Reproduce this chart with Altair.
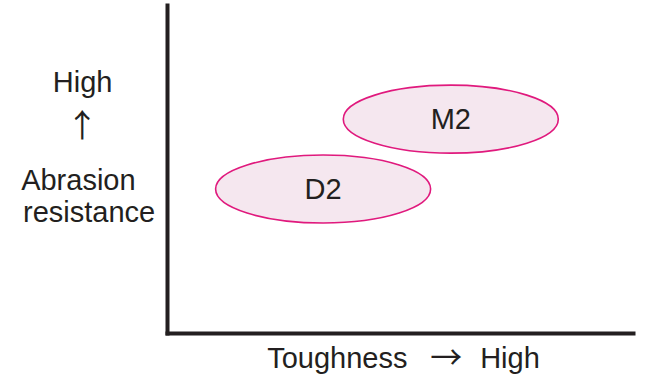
import altair as alt
import pandas as pd

# Ellipse regions (data units on a 0-10 scale for both axes)
grades = ["M2", "D2"]
toughness = [6.09, 3.35]
abrasion = [6.52, 4.39]

# Annotation texts placed in data units
label_texts = ["High", "\u2191", "Abrasion", "resistance", "Toughness", "\u2192", "High"]
label_x = [-2.45, -1.82, -3.13, -3.09, 2.15, 5.99, 6.72]
label_y = [7.35, 6.27, 4.36, 3.38, -1.07, -0.79, -1.07]
label_align = ["left", "center", "left", "left", "left", "center", "left"]
label_base = ["alphabetic", "middle", "alphabetic", "alphabetic", "alphabetic", "middle", "alphabetic"]
label_font = ["Liberation Sans", "Noto Sans CJK JP", "Liberation Sans", "Liberation Sans",
              "Liberation Sans", "Noto Sans CJK JP", "Liberation Sans"]
label_size = [29, 32, 29, 29, 29, 32, 29]

ell = pd.DataFrame({"grade": grades, "t": toughness, "a": abrasion})
lab = pd.DataFrame({"text": label_texts, "x": label_x, "y": label_y})

xs = alt.Scale(domain=[0, 10], nice=False, zero=False)
ys = alt.Scale(domain=[0, 10], nice=False, zero=False)

ax_x = alt.Axis(labels=False, ticks=False, grid=False, title=None, domain=True,
                domainColor="#231f20", domainWidth=4, domainCap="square")
ax_y = alt.Axis(labels=False, ticks=False, grid=False, title=None, domain=True,
                domainColor="#231f20", domainWidth=4, domainCap="square")

ellipse_path = "M-1,0A1,0.316,0,1,0,1,0A1,0.316,0,1,0,-1,0Z"

ellipses = alt.Chart(ell).mark_point(
    shape=ellipse_path, size=46225, filled=False, fill="#f5e7ef", fillOpacity=1,
    stroke="#e0197d", strokeWidth=1.6, opacity=1
).encode(
    x=alt.X("t:Q", scale=xs, axis=ax_x),
    y=alt.Y("a:Q", scale=ys, axis=ax_y),
)

grade_text = alt.Chart(ell).mark_text(
    font="Liberation Sans", fontSize=29, color="#231f20", baseline="middle", align="center", dy=1
).encode(
    x=alt.X("t:Q", scale=xs),
    y=alt.Y("a:Q", scale=ys),
    text="grade:N",
)

layers = [ellipses, grade_text]
for i in range(len(label_texts)):
    sub = lab.iloc[[i]]
    layers.append(
        alt.Chart(sub).mark_text(
            font=label_font[i], fontSize=label_size[i], color="#231f20",
            align=label_align[i], baseline=label_base[i]
        ).encode(
            x=alt.X("x:Q", scale=xs),
            y=alt.Y("y:Q", scale=ys),
            text="text:N",
        )
    )

chart = alt.layer(*layers).properties(
    width=466, height=328,
    autosize=alt.AutoSizeParams(type="none"),
    padding={"left": 167, "top": 5, "right": 13, "bottom": 55},
    background="white",
).configure_view(stroke=None)

chart.save("out.html", embed_options={"renderer": "svg", "actions": False})
